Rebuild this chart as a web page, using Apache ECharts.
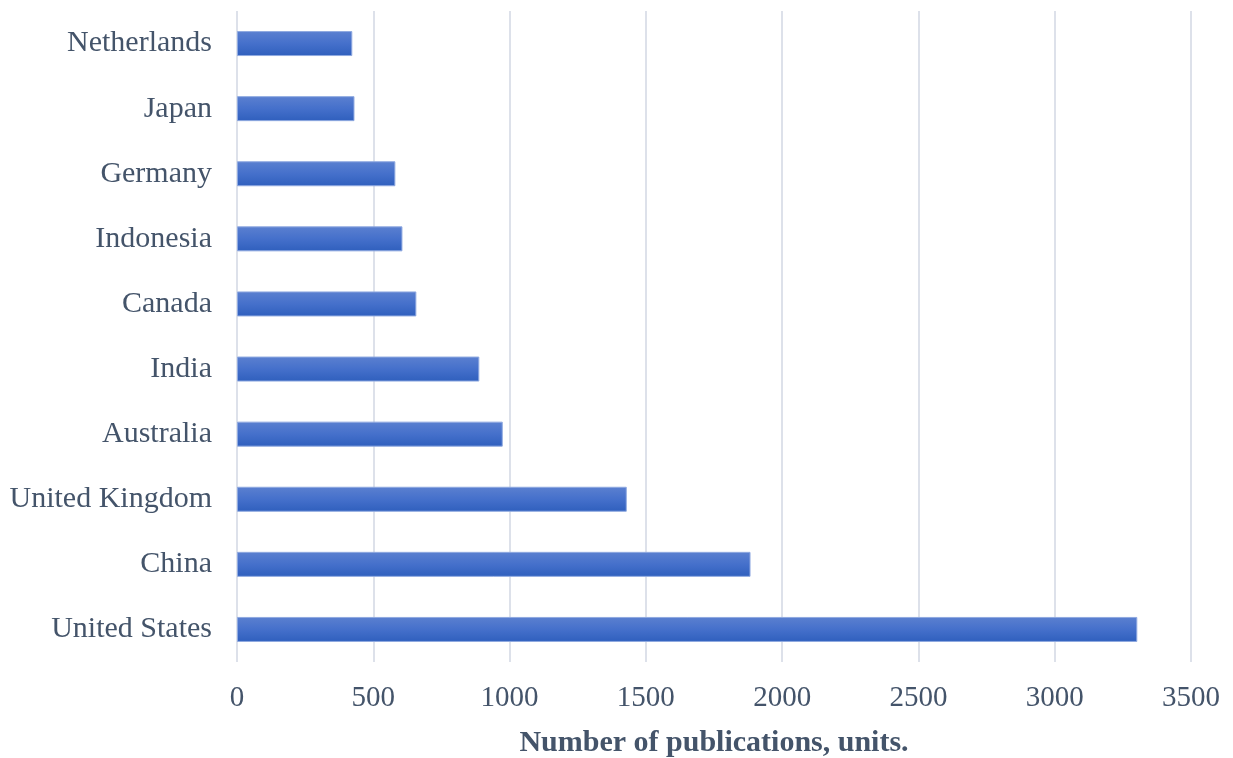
<!DOCTYPE html>
<html>
<head>
<meta charset="utf-8">
<script src="https://cdn.jsdelivr.net/npm/echarts@6/dist/echarts.min.js"></script>
<style>
  html, body { margin: 0; padding: 0; background: #ffffff; }
  #chart { width: 1233px; height: 758px; }
</style>
</head>
<body>
<div id="chart"></div>
<script>
// Publications per country (bottom to top on the category axis)
const countries = ['United States', 'China', 'United Kingdom', 'Australia', 'India',
                   'Canada', 'Indonesia', 'Germany', 'Japan', 'Netherlands'];
const publications = [3303, 1884, 1430, 975, 889, 658, 607, 581, 431, 423];
const xTicks = { min: 0, max: 3500, interval: 500 };
const xAxisTitle = 'Number of publications, units.';

const textColor = '#44546a';
const serif = '"Liberation Serif", "Times New Roman", serif';

const chart = echarts.init(document.getElementById('chart'));
chart.setOption({
  backgroundColor: '#ffffff',
  animation: false,
  grid: {
    left: 237, right: 42, top: 11, height: 651,
    containLabel: false, outerBoundsMode: 'none'
  },
  xAxis: {
    type: 'value',
    min: xTicks.min,
    max: xTicks.max,
    interval: xTicks.interval,
    name: xAxisTitle,
    nameLocation: 'middle',
    nameGap: 66,
    nameTextStyle: { color: textColor, fontFamily: serif, fontSize: 30, fontWeight: 'bold' },
    axisLine: { show: false },
    axisTick: { show: false },
    axisLabel: {
      color: textColor, fontFamily: serif, fontSize: 29, margin: 22,
      formatter: v => String(v)
    },
    splitLine: { show: true, lineStyle: { color: '#dde1ea', width: 2 } }
  },
  yAxis: {
    type: 'category',
    data: countries,
    axisLine: { show: false },
    axisTick: { show: false },
    axisLabel: {
      color: textColor, fontFamily: serif, fontSize: 30, margin: 25,
      padding: [4, 0, 0, 0]
    },
    splitLine: { show: false }
  },
  series: [{
    type: 'bar',
    data: publications,
    barWidth: 25,
    itemStyle: {
      color: new echarts.graphic.LinearGradient(0, 0, 0, 1, [
        { offset: 0, color: '#5b80d0' },
        { offset: 0.5, color: '#4570cb' },
        { offset: 1, color: '#2f5fbd' }
      ]),
      borderColor: '#8fa9e0',
      borderWidth: 1
    }
  }]
});
</script>
</body>
</html>
